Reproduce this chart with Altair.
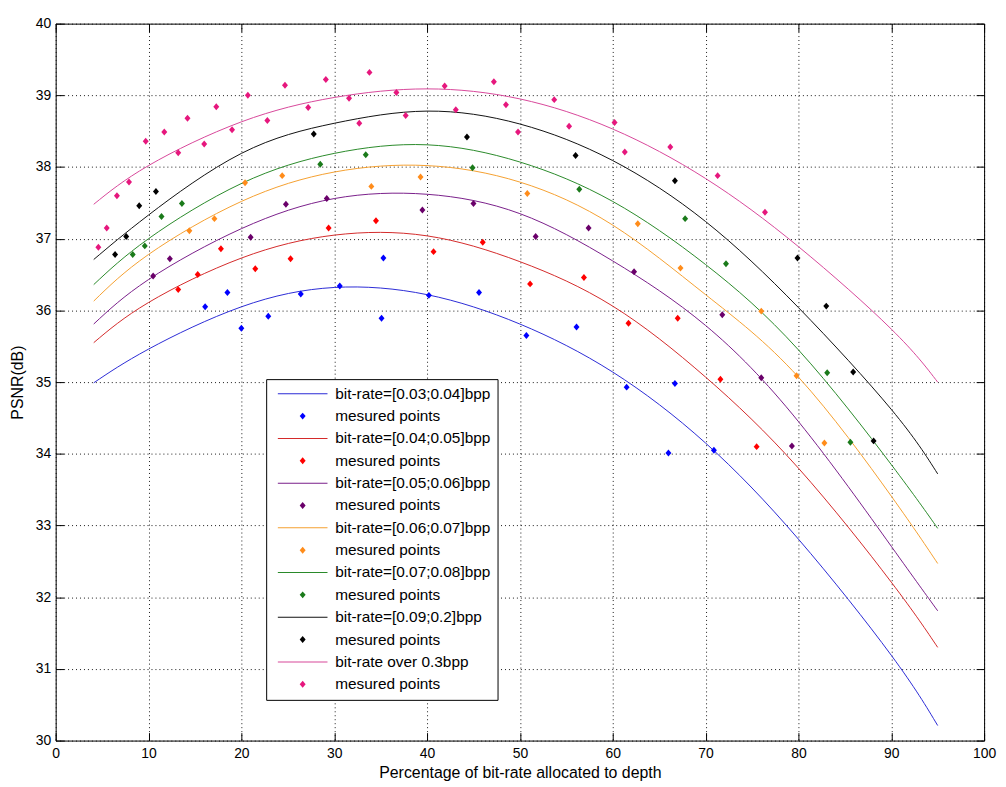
import altair as alt
import pandas as pd

# ---------------- data ----------------
series_labels = [
    "bit-rate=[0.03;0.04]bpp",
    "bit-rate=[0.04;0.05]bpp",
    "bit-rate=[0.05;0.06]bpp",
    "bit-rate=[0.06;0.07]bpp",
    "bit-rate=[0.07;0.08]bpp",
    "bit-rate=[0.09;0.2]bpp",
    "bit-rate over 0.3bpp",
]
point_label = "mesured points"
line_colors = ["#2b2bd6", "#d42a2a", "#7a1f8a", "#f5a030", "#2a8a2a", "#111111", "#d8489a"]
point_colors = ["#0000ff", "#ff0000", "#6a006a", "#ff8c1a", "#1a7a1a", "#000000", "#e6177d"]

curve_x = [4.1, 10, 20, 30, 40, 50, 60, 70, 80, 90, 95]
curve_blue = [34.99, 35.46, 36.05, 36.32, 36.22, 35.81, 35.14, 34.15, 32.81, 31.19, 30.21]
curve_red = [35.55, 36.11, 36.73, 37.05, 37.04, 36.68, 36.06, 35.07, 33.80, 32.21, 31.30]
curve_purple = [35.81, 36.43, 37.14, 37.56, 37.62, 37.35, 36.69, 35.79, 34.45, 32.71, 31.81]
curve_orange = [36.13, 36.78, 37.52, 37.93, 38.02, 37.79, 37.19, 36.22, 35.07, 33.41, 32.47]
curve_green = [36.36, 37.00, 37.77, 38.19, 38.31, 38.07, 37.52, 36.64, 35.45, 33.85, 32.96]
curve_black = [36.71, 37.33, 38.19, 38.61, 38.78, 38.60, 38.09, 37.24, 36.04, 34.62, 33.72]
curve_pink = [37.48, 38.02, 38.63, 38.97, 39.09, 38.95, 38.53, 37.84, 36.89, 35.74, 35.00]

blue_x = [16.1, 18.5, 20.0, 22.9, 26.4, 30.6, 35.1, 35.3, 40.2, 45.6, 50.7, 56.1, 61.5, 66.0, 66.7, 70.9]
blue_y = [36.05, 36.25, 35.75, 35.92, 36.23, 36.34, 35.89, 36.73, 36.21, 36.25, 35.65, 35.77, 34.93, 34.01, 34.98, 34.05]
red_x = [13.2, 15.3, 17.8, 21.5, 25.3, 29.4, 34.5, 40.7, 46.0, 51.1, 56.9, 61.7, 67.0, 71.6, 75.5]
red_y = [36.29, 36.50, 36.86, 36.58, 36.72, 37.15, 37.25, 36.82, 36.95, 36.37, 36.46, 35.82, 35.89, 35.04, 34.10]
purple_x = [10.5, 12.3, 21.0, 24.8, 29.2, 39.5, 45.0, 51.7, 57.4, 62.3, 71.8, 76.0, 79.3]
purple_y = [36.48, 36.72, 37.02, 37.48, 37.56, 37.40, 37.49, 37.03, 37.15, 36.54, 35.94, 35.06, 34.11]
orange_x = [14.4, 17.1, 20.4, 24.4, 34.0, 39.3, 50.8, 62.7, 67.3, 76.0, 79.8, 82.8]
orange_y = [37.11, 37.28, 37.78, 37.88, 37.73, 37.86, 37.63, 37.21, 36.59, 35.99, 35.09, 34.15]
green_x = [8.3, 9.6, 11.4, 13.6, 28.5, 33.4, 44.9, 56.4, 67.8, 72.2, 83.1, 85.6]
green_y = [36.78, 36.90, 37.31, 37.49, 38.04, 38.17, 37.99, 37.69, 37.28, 36.65, 35.13, 34.16]
black_x = [6.4, 7.6, 9.0, 10.8, 27.8, 44.3, 56.0, 66.7, 79.9, 83.0, 85.9, 88.1]
black_y = [36.78, 37.03, 37.46, 37.66, 38.46, 38.42, 38.16, 37.81, 36.73, 36.06, 35.14, 34.18]
pink_x = [4.6, 5.5, 6.6, 7.9, 9.7, 11.7, 13.2, 14.2, 16.0, 17.3, 19.0, 20.7, 22.8, 24.7, 27.2,
          29.1, 31.6, 32.7, 33.8, 36.7, 37.7, 41.9, 43.1, 47.2, 48.5, 49.8, 53.7, 55.3, 60.2,
          61.3, 66.2, 71.3, 76.4]
pink_y = [36.88, 37.15, 37.60, 37.79, 38.36, 38.49, 38.20, 38.68, 38.32, 38.84, 38.52, 39.00,
          38.65, 39.14, 38.83, 39.22, 38.96, 38.61, 39.32, 39.04, 38.72, 39.13, 38.80, 39.19,
          38.87, 38.49, 38.94, 38.57, 38.62, 38.21, 38.28, 37.88, 37.37]

x_ticks = list(range(0, 101, 10))
y_ticks = list(range(30, 41))

# ---------------- tables ----------------
curves = [curve_blue, curve_red, curve_purple, curve_orange, curve_green, curve_black, curve_pink]
pts = [(blue_x, blue_y), (red_x, red_y), (purple_x, purple_y), (orange_x, orange_y),
       (green_x, green_y), (black_x, black_y), (pink_x, pink_y)]

line_keys = [f"L{i}" for i in range(7)]
point_keys = [f"P{i}" for i in range(7)]

line_rows = []
for i, ys in enumerate(curves):
    for x, y in zip(curve_x, ys):
        line_rows.append({"x": x, "y": y, "key": line_keys[i]})
pt_rows = []
for i, (xs, ys) in enumerate(pts):
    for x, y in zip(xs, ys):
        pt_rows.append({"x": x, "y": y, "key": point_keys[i]})
df_lines = pd.DataFrame(line_rows)
df_pts = pd.DataFrame(pt_rows)

legend_keys, legend_colors, legend_shapes, legend_texts = [], [], [], []
LINE_PATH = "M-5,-0.1H5V0.1H-5Z"
DIAMOND_PATH = "M0,-0.7L0.6,0L0,0.7L-0.6,0Z"
for i in range(7):
    legend_keys += [line_keys[i], point_keys[i]]
    legend_colors += [line_colors[i], point_colors[i]]
    legend_shapes += [LINE_PATH, DIAMOND_PATH]
    legend_texts += [series_labels[i], point_label]

label_expr = "[" + ",".join(f"'{t}'" for t in legend_texts) + "][indexof([" + \
    ",".join(f"'{k}'" for k in legend_keys) + "], datum.label)]"

FONT = "Liberation Sans, Arial, sans-serif"
TICK = 8

x_scale = alt.Scale(domain=[0, 100], nice=False, zero=False)
y_scale = alt.Scale(domain=[30, 40], nice=False, zero=False)

x_axis = alt.Axis(values=x_ticks, format="d", grid=True, gridDash=[1, 3], gridColor="#000000",
                  gridOpacity=0.9, domain=False, ticks=False, labelFont=FONT, labelFontSize=14,
                  labelPadding=6, labelColor="#000",
                  title="Percentage of bit-rate allocated to depth",
                  titleFont=FONT, titleFontSize=16, titleFontWeight="normal", titleColor="#000",
                  titlePadding=4, labelFlush=False, orient="bottom")
y_axis = alt.Axis(values=y_ticks, format="d", grid=True, gridDash=[1, 3], gridColor="#000000",
                  gridOpacity=0.9, domain=False, ticks=False, labelFont=FONT, labelFontSize=14,
                  labelPadding=5, labelColor="#000", title="PSNR(dB)", titleFont=FONT,
                  titleFontSize=16, titleFontWeight="normal", titleColor="#000", titlePadding=10,
                  labelFlush=False, orient="left")


def tick_axis(values, orient):
    return alt.Axis(values=values, orient=orient, offset=-TICK, tickSize=TICK, ticks=True,
                    tickColor="#000", tickWidth=1, labels=False, grid=False, domain=False,
                    title=None)


lines = alt.Chart(df_lines).mark_line(strokeWidth=1, interpolate="natural").encode(
    x=alt.X("x:Q", scale=x_scale, axis=x_axis),
    y=alt.Y("y:Q", scale=y_scale, axis=y_axis),
    color=alt.Color("key:N", scale=alt.Scale(domain=line_keys, range=line_colors), legend=None),
    detail="key:N",
)

ticks_bl = alt.Chart(df_lines).mark_point(opacity=0, size=1).encode(
    x=alt.X("x:Q", scale=x_scale, axis=tick_axis(x_ticks, "bottom")),
    y=alt.Y("y:Q", scale=y_scale, axis=tick_axis(y_ticks, "left")),
)
ticks_tr = alt.Chart(df_lines).mark_point(opacity=0, size=1).encode(
    x=alt.X("x:Q", scale=x_scale, axis=tick_axis(x_ticks, "top")),
    y=alt.Y("y:Q", scale=y_scale, axis=tick_axis(y_ticks, "right")),
)

legend = alt.Legend(
    title=None, orient="none", legendX=212, legendY=358, direction="vertical",
    fillColor="white", strokeColor="black", padding=7, rowPadding=5.5,
    symbolSize=100, symbolOffset=22, symbolStrokeWidth=0, labelOffset=25,
    labelFont=FONT, labelFontSize=15.5, labelColor="#000", labelLimit=400,
    labelExpr=label_expr,
)

points = alt.Chart(df_pts).mark_point(filled=True, size=100, opacity=1).encode(
    x=alt.X("x:Q", scale=x_scale, axis=None),
    y=alt.Y("y:Q", scale=y_scale, axis=None),
    color=alt.Color("key:N", scale=alt.Scale(domain=legend_keys, range=legend_colors), legend=legend),
    shape=alt.Shape("key:N", scale=alt.Scale(domain=legend_keys, range=legend_shapes), legend=legend),
)

chart = alt.layer(lines, ticks_bl, ticks_tr, points).resolve_scale(
    color="independent", shape="independent"
).resolve_axis(x="independent", y="independent").properties(
    width=935, height=722,
    autosize=alt.AutoSizeParams(type="none"),
    padding={"left": 48, "top": 13, "right": 14, "bottom": 44},
    background="white",
).configure_view(stroke="black", strokeWidth=1)

chart.save("out.html", embed_options={"renderer": "svg", "actions": False})
